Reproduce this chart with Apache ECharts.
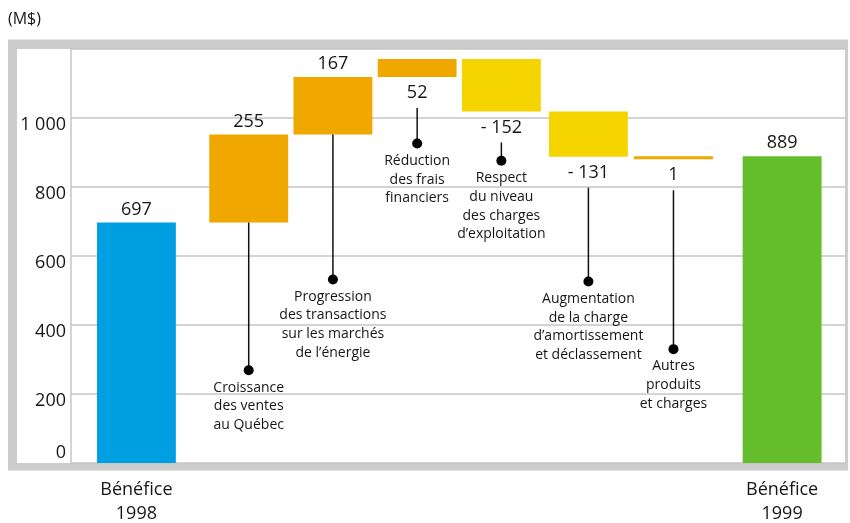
<!DOCTYPE html>
<html>
<head>
<meta charset="utf-8">
<script src="https://cdn.jsdelivr.net/npm/echarts@6/dist/echarts.min.js"></script>
<style>
  html, body { margin: 0; padding: 0; background: #fff; }
  #chart { width: 850px; height: 523px; }
</style>
</head>
<body>
<div id="chart"></div>
<script>
// values (M$)
const totalLabels = ['Bénéfice\n1998', 'Bénéfice\n1999'];
const totals = [697, 889];
const steps = [255, 167, 52, -152, -131, 1];
const stepNotes = [
  'Croissance\ndes ventes\nau Québec',
  'Progression\ndes transactions\nsur les marchés\nde l\u2019énergie',
  'Réduction\ndes frais\nfinanciers',
  'Respect\ndu niveau\ndes charges\nd\u2019exploitation',
  'Augmentation\nde la charge\nd\u2019amortissement\net déclassement',
  'Autres\nproduits\net charges'
];
const yTicks = [0, 200, 400, 600, 800, 1000];

// layout only
const slots = [0, 4, 7, 10, 13, 16.1, 19.13, 23];
const noteAt = [269, 532, 926, 876, 526, 330];
const labelSide = ['top', 'top', 'top', 'bottom', 'bottom', 'bottom', 'bottom', 'top'];

const FONT = '"Open Sans", "Noto Sans", sans-serif';
const INK = '#161616';
const colors = { start: '#009fe2', up: '#f0a800', down: '#f5d400', end: '#64bd2b' };

// build waterfall rows: [slot, low, high]
const rows = [];
rows.push([slots[0], 0, totals[0]]);
let level = totals[0];
steps.forEach((d, i) => {
  const next = level + d;
  rows.push([slots[i + 1], Math.min(level, next), Math.max(level, next)]);
  level = next;
});
rows.push([slots[7], 0, totals[1]]);

function valueText(i) {
  if (i === 0) return String(totals[0]);
  if (i === 7) return String(totals[1]);
  const d = steps[i - 1];
  return d < 0 ? '- ' + Math.abs(d) : String(d);
}

function colorOf(i) {
  if (i === 0) return colors.start;
  if (i === 7) return colors.end;
  return steps[i - 1] < 0 ? colors.down : colors.up;
}

var chart = echarts.init(document.getElementById('chart'));
var option;

option = {
  animation: false,
  graphic: [
    { type: 'rect', z: -10, shape: { x: 8, y: 39.5, width: 840, height: 431 }, style: { fill: '#cccccc' } },
    { type: 'rect', z: -9, shape: { x: 17, y: 49, width: 828, height: 414 }, style: { fill: '#ffffff' } },
    { type: 'text', x: 8, y: 19, style: { text: '(M$)', fill: INK, font: '16px ' + FONT, verticalAlign: 'middle' } }
  ],
  grid: { left: 71, right: 5, top: 49, bottom: 60 },
  xAxis: {
    type: 'value',
    min: -2.33,
    max: 25.24,
    show: false
  },
  yAxis: {
    type: 'value',
    min: 0,
    max: 1200,
    interval: 200,
    axisLine: { show: true, onZero: false, lineStyle: { color: '#c6c6c6', width: 1.5 } },
    axisTick: { show: false },
    splitLine: { lineStyle: { color: '#c6c6c6', width: 1.5 } },
    axisLabel: {
      margin: 5,
      verticalAlign: 'middle',
      formatter: function (v) {
        if (yTicks.indexOf(v) < 0) return '';
        if (v === 0) return '{z|0}';
        const s = v >= 1000 ? Math.floor(v / 1000) + ' ' + String(v % 1000).padStart(3, '0') : String(v);
        return '{n|' + s + '}';
      },
      rich: {
        n: { fontSize: 18, fontFamily: FONT, color: INK, lineHeight: 18, padding: [13, 0, 0, 0] },
        z: { fontSize: 18, fontFamily: FONT, color: INK, lineHeight: 18, padding: [0, 0, 20, 0] }
      }
    }
  },
  series: [
    {
      type: 'custom',
      clip: false,
      data: rows,
      renderItem: function (params, api) {
        const i = params.dataIndex;
        const slot = api.value(0);
        const low = api.value(1);
        const high = api.value(2);
        const bw = api.size([2.81, 0])[0];
        const cx = api.coord([slot, 0])[0];
        const yTop = api.coord([slot, high])[1];
        const yBot = api.coord([slot, low])[1];
        const h = Math.max(yBot - yTop, 3);
        const kids = [];
        kids.push({
          type: 'rect',
          shape: { x: cx - bw / 2, y: yTop, width: bw, height: h },
          style: { fill: colorOf(i) }
        });
        const below = labelSide[i] === 'bottom';
        kids.push({
          type: 'text',
          x: cx,
          y: below ? yTop + h + 7 : yTop - 4,
          style: {
            text: valueText(i), fill: INK, font: '18px ' + FONT,
            align: 'center', verticalAlign: below ? 'top' : 'bottom'
          }
        });
        if (i === 0 || i === 7) {
          kids.push({
            type: 'text',
            x: cx,
            y: api.coord([slot, 0])[1] + 15,
            style: {
              text: totalLabels[i === 0 ? 0 : 1], fill: INK, font: '18px ' + FONT,
              align: 'center', verticalAlign: 'top', lineHeight: 24
            }
          });
        } else {
          const y0 = below ? yTop + h + 31 : yTop + h;
          const dotY = api.coord([slot, noteAt[i - 1]])[1];
          kids.push({
            type: 'line',
            shape: { x1: cx, y1: y0, x2: cx, y2: dotY },
            style: { stroke: '#111', lineWidth: 1.5 }
          });
          kids.push({
            type: 'circle',
            shape: { cx: cx, cy: dotY, r: 5 },
            style: { fill: '#000' }
          });
          kids.push({
            type: 'text',
            x: cx,
            y: dotY + 8,
            style: {
              text: stepNotes[i - 1], fill: INK, font: '14px ' + FONT,
              align: 'center', verticalAlign: 'top', lineHeight: 18.7
            }
          });
        }
        return { type: 'group', children: kids };
      }
    }
  ]
};

option && chart.setOption(option);
</script>
</body>
</html>
